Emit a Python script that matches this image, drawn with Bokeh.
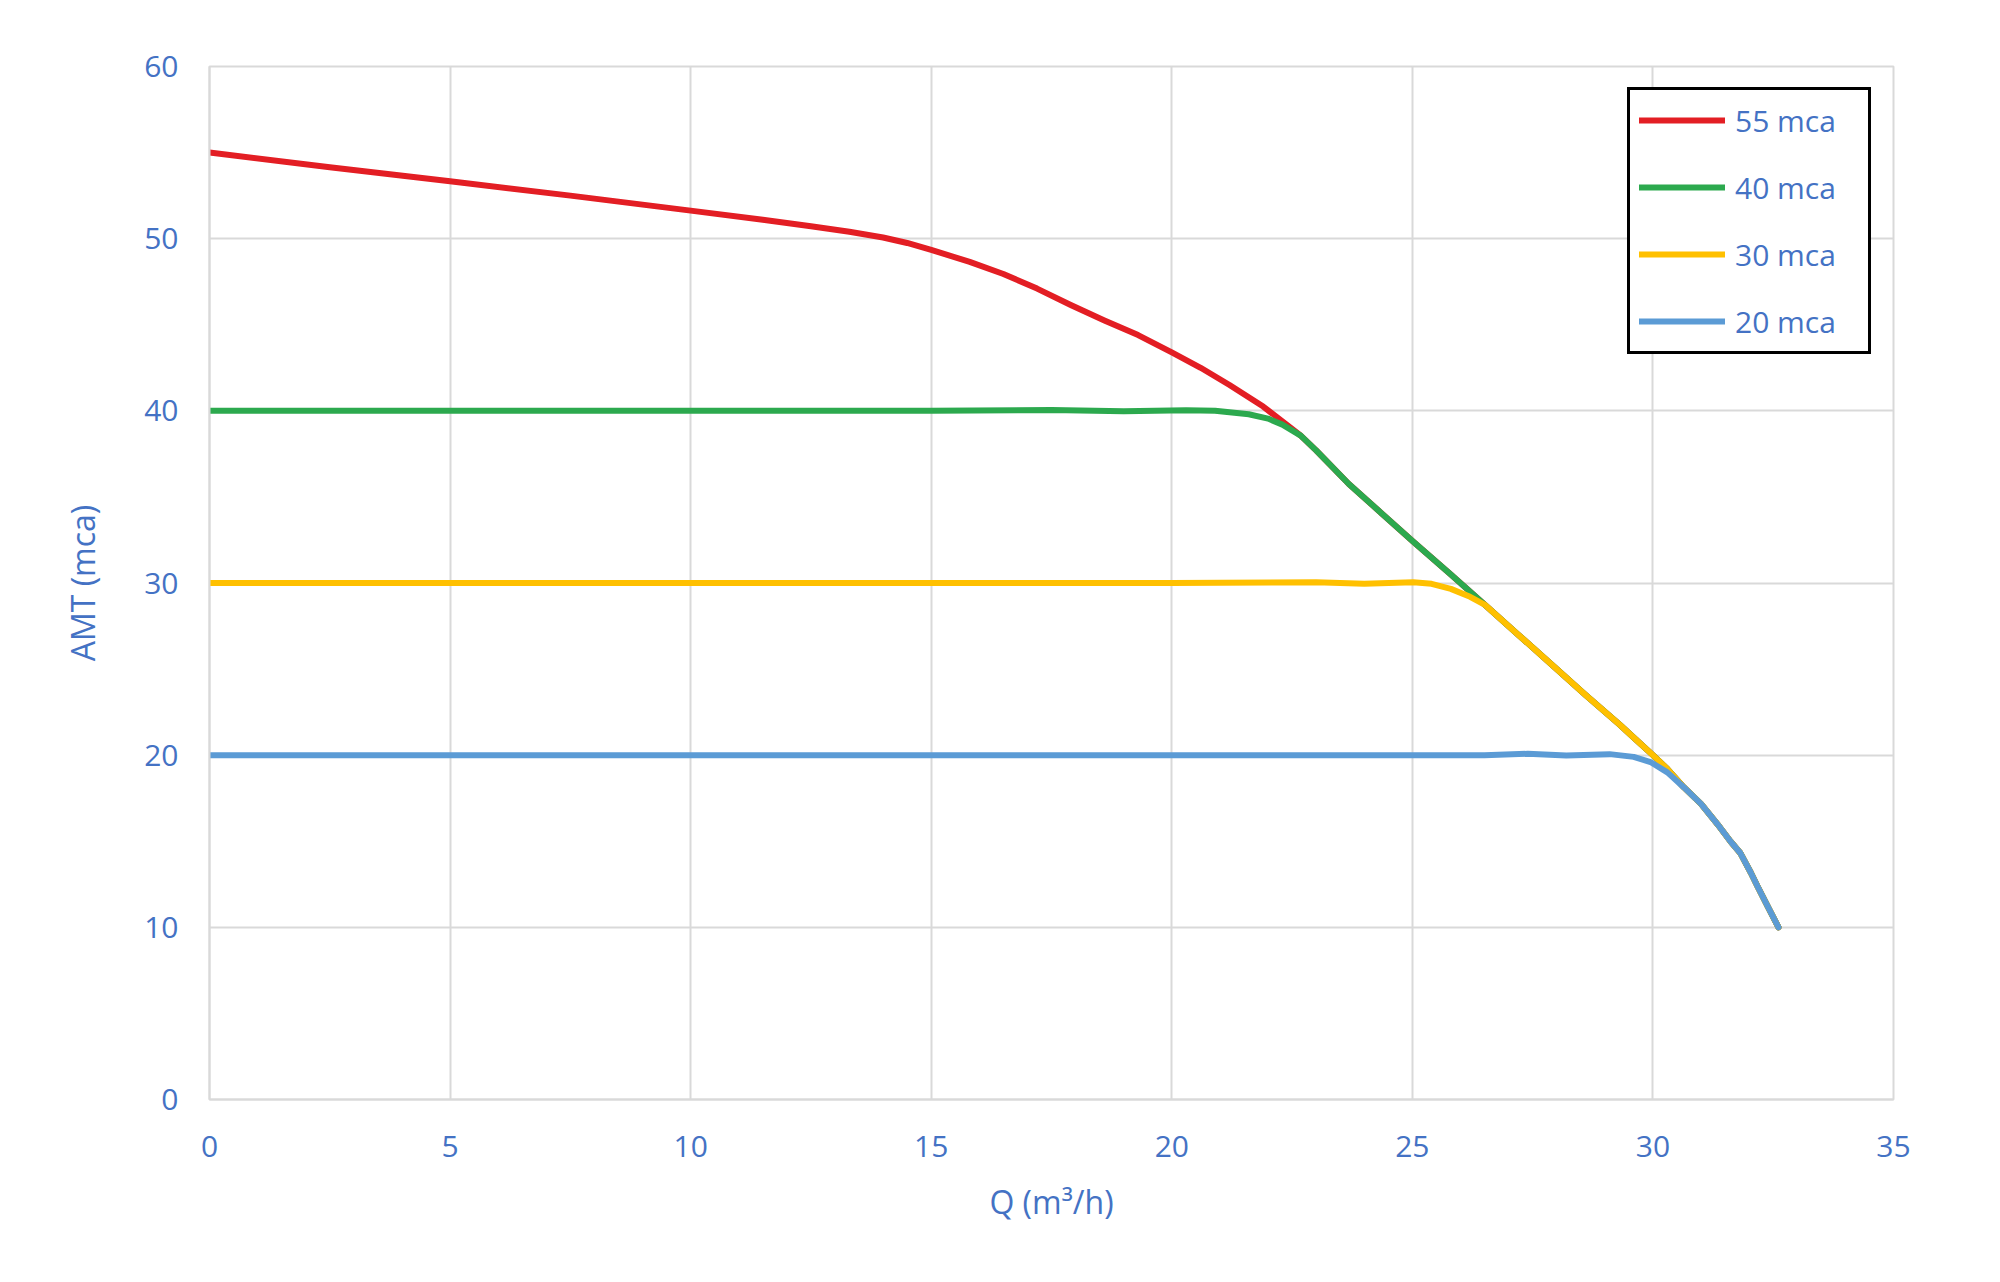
from bokeh.plotting import figure
from bokeh.models import Legend, LegendItem, Range1d, FixedTicker
from bokeh.embed import file_html
from bokeh.resources import INLINE

# ---- data ----
series_names = ["55 mca", "40 mca", "30 mca", "20 mca"]
series_colors = ["#E31E24", "#2CA94E", "#FFC000", "#5B9BD5"]

q_55 = [0, 2.5, 5, 7.5, 10, 11.5, 12.5, 13.3, 14.0, 14.5, 15, 15.8, 16.5, 17.2, 17.9, 18.6, 19.3, 20,
        20.6, 21.2, 21.9, 22.5, 22.68, 23.0, 23.68, 24.34, 25.02, 25.8, 26.5, 27.2, 27.9, 28.6, 29.3,
        29.65, 30.0, 30.3, 30.64, 31.0, 31.34, 31.61, 31.82, 32.03, 32.17, 32.38, 32.61]
h_55 = [55, 54.15, 53.33, 52.5, 51.63, 51.1, 50.72, 50.4, 50.07, 49.75, 49.35, 48.65, 47.95, 47.1,
        46.15, 45.25, 44.4, 43.4, 42.5, 41.5, 40.25, 38.95, 38.56, 37.7, 35.75, 34.1, 32.4, 30.5, 28.75,
        27.0, 25.25, 23.5, 21.8, 20.9, 20.0, 19.2, 18.14, 17.17, 16.0, 15.0, 14.3, 13.2, 12.4, 11.25, 10.0]

q_40 = [0, 5, 10, 15, 17.5, 19, 20.3, 20.9, 21.6, 22.0, 22.3, 22.68, 23.0, 23.68, 24.34, 25.02, 25.8,
        26.5, 27.2, 27.9, 28.6, 29.3, 29.65, 30.0, 30.3, 30.64, 31.0, 31.34, 31.61, 31.82, 32.03,
        32.17, 32.38, 32.61]
h_40 = [40, 40, 40, 40, 40.05, 39.97, 40.03, 40.0, 39.8, 39.55, 39.2, 38.56, 37.7, 35.75, 34.1, 32.4,
        30.5, 28.75, 27.0, 25.25, 23.5, 21.8, 20.9, 20.0, 19.2, 18.14, 17.17, 16.0, 15.0, 14.3, 13.2,
        12.4, 11.25, 10.0]

q_30 = [0, 5, 10, 15, 20, 23, 24, 25.02, 25.4, 25.8, 26.2, 26.5, 27.2, 27.9, 28.6, 29.3, 29.65, 30.0,
        30.3, 30.64, 31.0, 31.34, 31.61, 31.82, 32.03, 32.17, 32.38, 32.61]
h_30 = [30, 30, 30, 30, 30, 30.05, 29.95, 30.05, 29.95, 29.66, 29.2, 28.75, 27.0, 25.25, 23.5, 21.8,
        20.9, 20.0, 19.2, 18.14, 17.17, 16.0, 15.0, 14.3, 13.2, 12.4, 11.25, 10.0]

q_20 = [0, 5, 10, 15, 20, 25, 26.5, 27.4, 28.2, 29.1, 29.6, 29.95, 30.3, 30.64, 31.0, 31.34, 31.61,
        31.82, 32.03, 32.17, 32.38, 32.61]
h_20 = [20, 20, 20, 20, 20, 20, 20.0, 20.08, 19.98, 20.06, 19.9, 19.6, 19.0, 18.14, 17.17, 16.0,
        15.0, 14.3, 13.2, 12.4, 11.25, 10.0]

x_ticks = [0, 5, 10, 15, 20, 25, 30, 35]
y_ticks = [0, 10, 20, 30, 40, 50, 60]
x_title = "Q (m³/h)"
y_title = "AMT (mca)"

FONT = "Open Sans"
TXT = "#4472C4"
GRID = "#D9D9D9"

p = figure(width=1980, height=1260, output_backend="svg", toolbar_location=None,
           x_range=Range1d(0, 35), y_range=Range1d(0, 60),
           min_border_left=209, min_border_right=87, min_border_top=66, min_border_bottom=161)
p.background_fill_color = "white"
p.border_fill_color = "white"
p.outline_line_color = GRID
p.outline_line_width = 2

p.xaxis.ticker = FixedTicker(ticks=x_ticks)
p.yaxis.ticker = FixedTicker(ticks=y_ticks)
for ax in (p.xaxis, p.yaxis):
    ax.major_tick_line_color = None
    ax.minor_tick_line_color = None
    ax.major_tick_out = 0
    ax.major_tick_in = 0
    ax.minor_tick_out = 0
    ax.minor_tick_in = 0
    ax.axis_line_color = GRID
    ax.axis_line_width = 2
    ax.major_label_text_font = FONT
    ax.major_label_text_font_size = "30px"
    ax.major_label_text_color = TXT
    ax.axis_label_text_font = FONT
    ax.axis_label_text_font_size = "32px"
    ax.axis_label_text_font_style = "normal"
    ax.axis_label_text_color = TXT
p.xaxis.axis_label = x_title
p.yaxis.axis_label = y_title
p.xaxis.major_label_standoff = 36
p.yaxis.major_label_standoff = 31
p.xaxis.axis_label_standoff = 20
p.yaxis.axis_label_standoff = 37

p.xgrid.grid_line_color = GRID
p.ygrid.grid_line_color = GRID
p.xgrid.grid_line_width = 2
p.ygrid.grid_line_width = 2

renderers = []
for q, h, c in zip([q_55, q_40, q_30, q_20], [h_55, h_40, h_30, h_20], series_colors):
    r = p.line(q, h, line_color=c, line_width=6, line_cap="round", line_join="round")
    renderers.append(r)

legend = Legend(items=[LegendItem(label=n, renderers=[r]) for n, r in zip(series_names, renderers)],
                location=(1418, 745))
legend.border_line_color = "black"
legend.border_line_alpha = 1.0
legend.border_line_width = 3
legend.background_fill_color = "white"
legend.background_fill_alpha = 1.0
legend.padding = 9
legend.spacing = 25
legend.glyph_width = 86
legend.glyph_height = 42
legend.label_height = 42
legend.label_width = 124
legend.label_standoff = 10
legend.label_text_font = FONT
legend.label_text_font_size = "30px"
legend.label_text_color = TXT
legend.margin = 0
p.add_layout(legend, "center")

open("out.html", "w").write(file_html(p, INLINE))
